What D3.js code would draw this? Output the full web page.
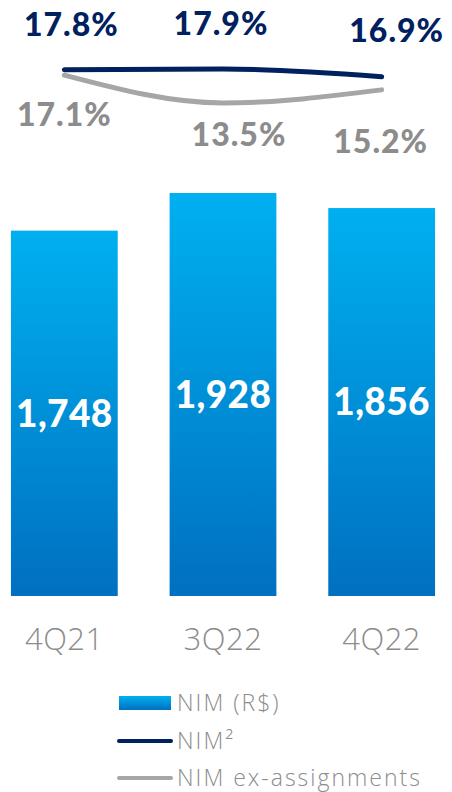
<!DOCTYPE html>
<html>
<head>
<meta charset="utf-8">
<script src="https://cdn.jsdelivr.net/npm/d3@7"></script>
<style>
  html, body { margin: 0; padding: 0; background: #ffffff; }
  svg { display: block; }
</style>
</head>
<body>
<svg id="chart" width="452" height="792"></svg>
<script>
// Quarterly net interest margin: amount in R$ (bars) and rates (lines)
const categories = ["4Q21", "3Q22", "4Q22"];
const nimAmount = [1748, 1928, 1856];
const nimRate = [17.8, 17.9, 16.9];
const nimExAssignments = [17.1, 13.5, 15.2];
const legendLabels = ["NIM (R$)", "NIM²", "NIM ex-assignments"];

const navy = "#002060";
const greyLine = "#A6A6A6";
const greyText = "#8C8C8C";
const numFont = "Lato, 'DejaVu Sans', sans-serif";
const lightFont = "'Open Sans', 'Noto Sans', sans-serif";

const svg = d3.select("#chart");

const defs = svg.append("defs");
const grad = defs.append("linearGradient")
  .attr("id", "barGrad")
  .attr("x1", 0).attr("y1", 0).attr("x2", 0).attr("y2", 1);
grad.append("stop").attr("offset", "0%").attr("stop-color", "#00B0F0");
grad.append("stop").attr("offset", "100%").attr("stop-color", "#0070C0");

const x = d3.scaleBand()
  .domain(categories)
  .range([-15, 461])
  .paddingInner(0.327)
  .paddingOuter(0.1635);

const yBar = d3.scaleLinear().domain([0, 1928]).range([596, 193]);
const yRate = d3.scaleLinear().domain([13.5, 17.9]).range([103, 69]);

// Bars
const bars = svg.append("g");
bars.selectAll("rect")
  .data(categories)
  .join("rect")
  .attr("x", d => x(d))
  .attr("width", x.bandwidth())
  .attr("y", (d, i) => yBar(nimAmount[i]))
  .attr("height", (d, i) => yBar(0) - yBar(nimAmount[i]))
  .attr("fill", "url(#barGrad)");

bars.selectAll("text")
  .data(categories)
  .join("text")
  .attr("x", d => x(d) + x.bandwidth() / 2)
  .attr("y", (d, i) => (yBar(nimAmount[i]) + yBar(0)) / 2)
  .attr("dy", "0.36em")
  .attr("text-anchor", "middle")
  .attr("fill", "#ffffff")
  .attr("font-family", numFont)
  .attr("font-weight", 900)
  .attr("font-size", 37)
  .attr("letter-spacing", 0.4)
  .text((d, i) => d3.format(",")(nimAmount[i]));

// Category axis labels
svg.append("g").selectAll("text")
  .data(categories)
  .join("text")
  .attr("x", d => x(d) + x.bandwidth() / 2)
  .attr("y", 650)
  .attr("text-anchor", "middle")
  .attr("fill", greyText)
  .attr("font-family", lightFont)
  .attr("font-weight", 300)
  .attr("font-size", 31)
  .attr("letter-spacing", 0.5)
  .text(d => d);

// Rate lines
const cx = d => x(d) + x.bandwidth() / 2;
const lineGen = vals => d3.line()
  .x(d => cx(d))
  .y((d, i) => yRate(vals[i]))
  .curve(d3.curveMonotoneX)(categories);

svg.append("path")
  .attr("d", lineGen(nimExAssignments))
  .attr("fill", "none")
  .attr("stroke", greyLine)
  .attr("stroke-width", 5)
  .attr("stroke-linecap", "round");

svg.append("path")
  .attr("d", lineGen(nimRate))
  .attr("fill", "none")
  .attr("stroke", navy)
  .attr("stroke-width", 5)
  .attr("stroke-linecap", "round");

// Rate labels
const pct = v => v.toFixed(1) + "%";
const navyOffsets = [[7, -34], [-2, -34], [15, -35]];
const greyOffsets = [[0, 51], [16, 43], [-1, 63]];

svg.append("g").selectAll("text")
  .data(categories)
  .join("text")
  .attr("x", (d, i) => cx(d) + navyOffsets[i][0])
  .attr("y", (d, i) => yRate(nimRate[i]) + navyOffsets[i][1])
  .attr("text-anchor", "middle")
  .attr("fill", navy)
  .attr("font-family", numFont)
  .attr("font-weight", 900)
  .attr("font-size", 32)
  .attr("letter-spacing", 1)
  .text((d, i) => pct(nimRate[i]));

svg.append("g").selectAll("text")
  .data(categories)
  .join("text")
  .attr("x", (d, i) => cx(d) + greyOffsets[i][0])
  .attr("y", (d, i) => yRate(nimExAssignments[i]) + greyOffsets[i][1])
  .attr("text-anchor", "middle")
  .attr("fill", greyText)
  .attr("font-family", numFont)
  .attr("font-weight", 900)
  .attr("font-size", 32)
  .attr("letter-spacing", 1)
  .text((d, i) => pct(nimExAssignments[i]));

// Legend
const legend = svg.append("g");
const legendY = [703, 741, 778];
legend.append("rect")
  .attr("x", 119).attr("y", legendY[0] - 7)
  .attr("width", 52).attr("height", 14)
  .attr("fill", "url(#barGrad)");
legend.append("line")
  .attr("x1", 119).attr("x2", 171)
  .attr("y1", legendY[1]).attr("y2", legendY[1])
  .attr("stroke", navy).attr("stroke-width", 4).attr("stroke-linecap", "round");
legend.append("line")
  .attr("x1", 119).attr("x2", 171)
  .attr("y1", legendY[2]).attr("y2", legendY[2])
  .attr("stroke", greyLine).attr("stroke-width", 4).attr("stroke-linecap", "round");
legend.selectAll("text")
  .data(legendLabels)
  .join("text")
  .attr("x", 177)
  .attr("y", (d, i) => legendY[i])
  .attr("dy", "0.36em")
  .attr("fill", greyText)
  .attr("font-family", lightFont)
  .attr("font-weight", 300)
  .attr("font-size", 23)
  .attr("letter-spacing", 2)
  .text(d => d);
</script>
</body>
</html>
